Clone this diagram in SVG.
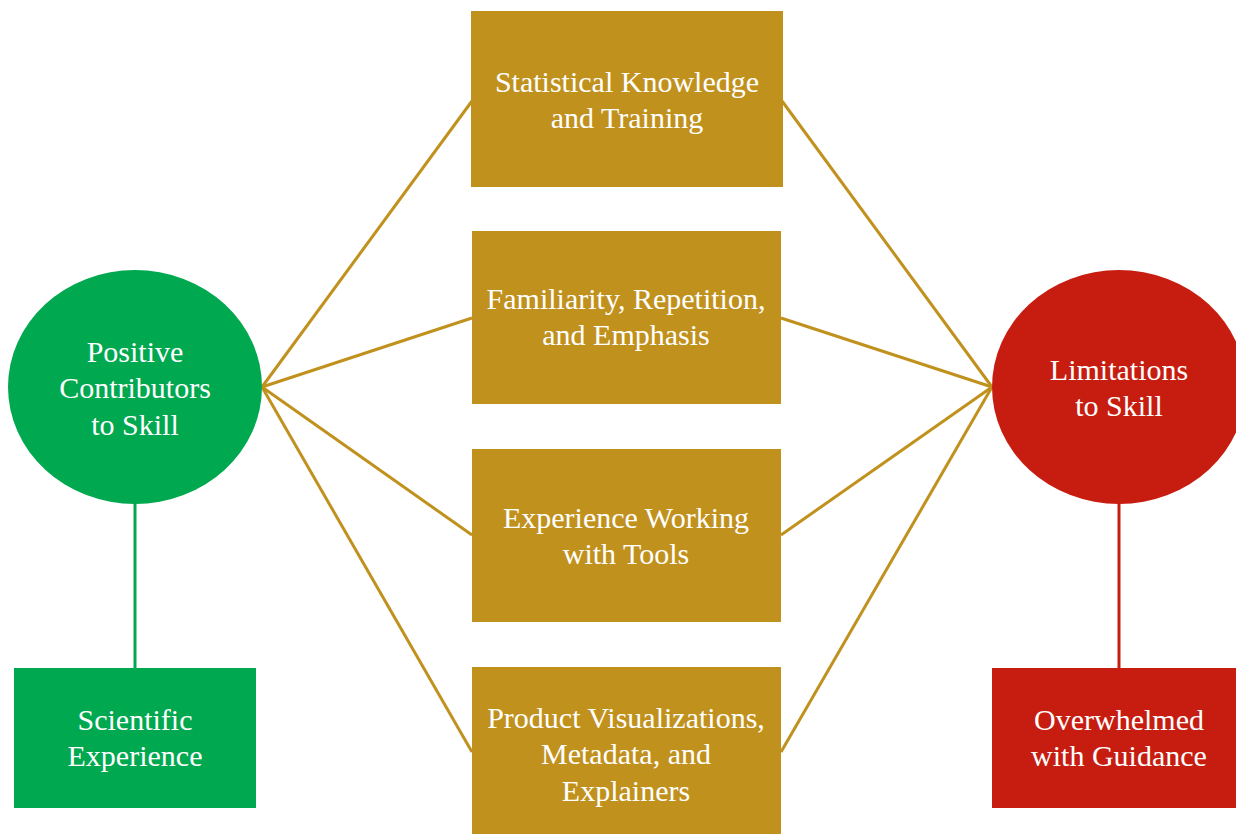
<svg xmlns="http://www.w3.org/2000/svg" width="1236" height="834" viewBox="0 0 1236 834">
  <style>
    .lbl { font-family: "Liberation Serif", "Times New Roman", serif; font-size: 30px; fill: #ffffff; text-anchor: middle; }
    .gold { fill: #C1911E; }
    .green { fill: #00A84F; }
    .red { fill: #C71D10; }
    .link-gold { stroke: #C1911E; stroke-width: 3; fill: none; }
    .link-green { stroke: #00A84F; stroke-width: 3; fill: none; }
    .link-red { stroke: #C71D10; stroke-width: 3; fill: none; }
  </style>
  <rect width="1236" height="834" fill="#ffffff"/>

  <g id="connectors">
    <line class="link-gold" x1="262" y1="387" x2="472" y2="101"/>
    <line class="link-gold" x1="262" y1="387" x2="472" y2="318"/>
    <line class="link-gold" x1="262" y1="387" x2="472" y2="535"/>
    <line class="link-gold" x1="262" y1="387" x2="472" y2="752"/>
    <line class="link-gold" x1="992" y1="387" x2="782" y2="101"/>
    <line class="link-gold" x1="992" y1="387" x2="781" y2="318"/>
    <line class="link-gold" x1="992" y1="387" x2="781" y2="535"/>
    <line class="link-gold" x1="992" y1="387" x2="781" y2="752"/>
    <line class="link-green" x1="135" y1="500" x2="135" y2="670"/>
    <line class="link-red" x1="1119" y1="500" x2="1119" y2="670"/>
  </g>

  <g id="positive">
    <ellipse class="green" cx="135" cy="387" rx="127" ry="117"/>
    <text class="lbl" x="135" y="362">Positive</text>
    <text class="lbl" x="135" y="398">Contributors</text>
    <text class="lbl" x="135" y="435">to Skill</text>
  </g>

  <g id="limitations">
    <ellipse class="red" cx="1119" cy="387" rx="127" ry="117"/>
    <text class="lbl" x="1119" y="380">Limitations</text>
    <text class="lbl" x="1119" y="416">to Skill</text>
  </g>

  <g id="statistical">
    <rect class="gold" x="471" y="11" width="312" height="176"/>
    <text class="lbl" x="627" y="92">Statistical Knowledge</text>
    <text class="lbl" x="627" y="128">and Training</text>
  </g>

  <g id="familiarity">
    <rect class="gold" x="472" y="231" width="309" height="173"/>
    <text class="lbl" x="626" y="309">Familiarity, Repetition,</text>
    <text class="lbl" x="626" y="345">and Emphasis</text>
  </g>

  <g id="tools">
    <rect class="gold" x="472" y="449" width="309" height="173"/>
    <text class="lbl" x="626" y="528">Experience Working</text>
    <text class="lbl" x="626" y="564">with Tools</text>
  </g>

  <g id="product">
    <rect class="gold" x="472" y="667" width="309" height="167"/>
    <text class="lbl" x="626" y="728">Product Visualizations,</text>
    <text class="lbl" x="626" y="764">Metadata, and</text>
    <text class="lbl" x="626" y="801">Explainers</text>
  </g>

  <g id="scientific">
    <rect class="green" x="14" y="668" width="242" height="140"/>
    <text class="lbl" x="135" y="730">Scientific</text>
    <text class="lbl" x="135" y="766">Experience</text>
  </g>

  <g id="overwhelmed">
    <rect class="red" x="992" y="668" width="244" height="140"/>
    <text class="lbl" x="1119" y="730">Overwhelmed</text>
    <text class="lbl" x="1119" y="766">with Guidance</text>
  </g>
</svg>
